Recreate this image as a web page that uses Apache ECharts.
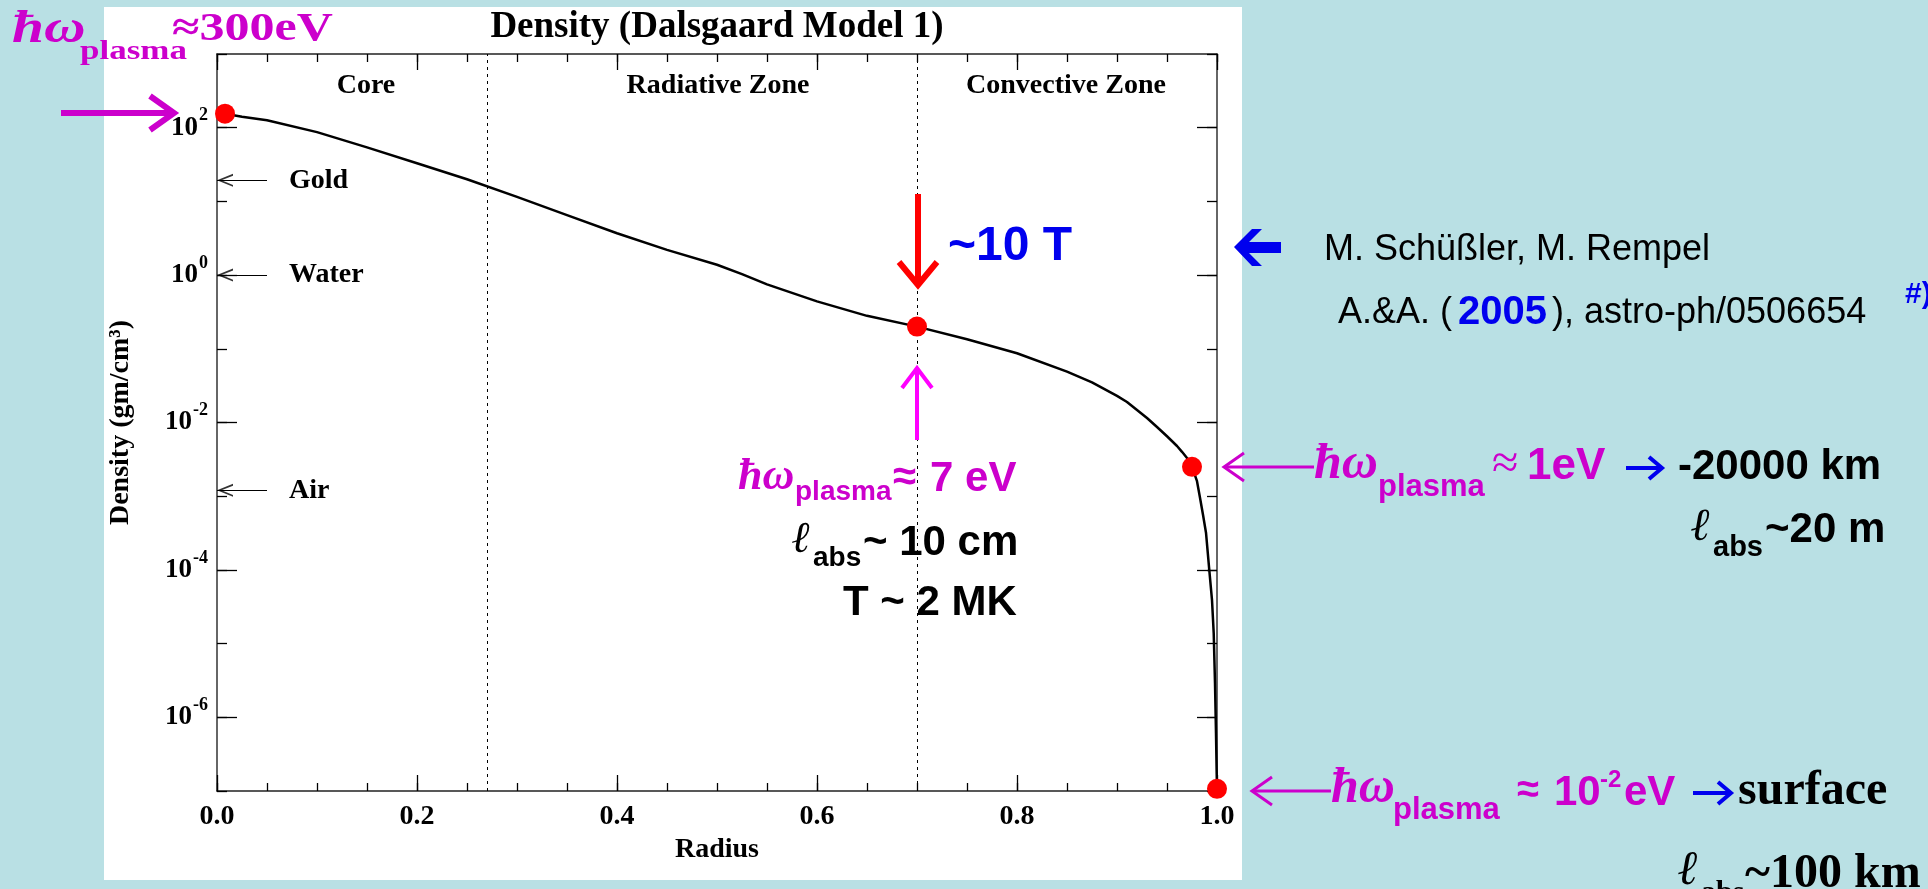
<!DOCTYPE html>
<html lang="en">
<head>
<meta charset="UTF-8">
<title>Density (Dalsgaard Model 1)</title>
<script src="https://cdn.jsdelivr.net/npm/echarts@6/dist/echarts.min.js"></script>
<style>
  html, body { margin: 0; padding: 0; background: #b9e0e4; }
  #main { width: 1928px; height: 889px; }
</style>
</head>
<body>
<div id="main"></div>
<script>
// solar density profile (radius in R_sun, density in g/cm^3)
var radius = [0.008, 0.025, 0.05, 0.1, 0.15, 0.2, 0.25, 0.3, 0.35, 0.4, 0.45, 0.5, 0.525, 0.55, 0.6, 0.65, 0.7,
  0.75, 0.8, 0.85, 0.875, 0.9, 0.91, 0.93, 0.94, 0.95, 0.96, 0.965, 0.97, 0.975, 0.98, 0.983, 0.986,
  0.989, 0.992, 0.995, 0.9967, 0.998, 0.999, 0.9997, 1.0];
var density = [155, 141, 126, 87, 54, 33, 20, 11.5, 6.5, 3.7, 2.2, 1.38, 1.03, 0.75, 0.44, 0.28, 0.20,
  0.135, 0.087, 0.049, 0.035, 0.023, 0.019, 0.0115, 0.0087, 0.0065, 0.0048, 0.004, 0.0033, 0.0025, 0.0016,
  0.00095, 0.00056, 0.00032, 0.00011, 0.000039, 0.000014, 0.0000029, 0.0000006, 0.00000017, 0.000000107];

// red dots
var dotRadius = [0.008, 0.7, 0.975, 1.0];
var dotDensity = [155, 0.2, 0.0025, 0.000000107];

// reference materials marked on the density axis
var refNames = ['Gold', 'Water', 'Air'];
var refDensity = [19.3, 1.0, 0.0012];

// zone boundaries (dotted lines)
var zoneEdges = [0.27, 0.7];

// decades that carry a label
var yLabelExp = [-6, -4, -2, 0, 2];

var SERIF = "'Liberation Serif', 'Times New Roman', 'DejaVu Serif', serif";
var SANS = "'Liberation Sans', Arial, 'DejaVu Sans', sans-serif";
var MAG = '#cc00cc';
var BLUE = '#0000ee';

function lg(v) { return Math.log10(v); }

var curve = radius.map(function (r, i) { return [r, lg(density[i])]; });
var dots = dotRadius.map(function (r, i) { return [r, lg(dotDensity[i])]; });
var refHeads = refDensity.map(function (d) { return [0, lg(d)]; });

// open "<" arrow head, tip on the left
var chevron = 'path://M10,0 L0,5 L10,10 L10,8.6 L2.8,5 L10,1.4 Z';

function xAxis(pos, interval, tickLen, labels) {
  return {
    type: 'value', position: pos, min: 0, max: 1, interval: interval,
    splitLine: { show: false },
    axisLine: { show: tickLen > 10, onZero: false, lineStyle: { color: '#222', width: 1.5 } },
    axisTick: { show: true, inside: true, length: tickLen, lineStyle: { color: '#000', width: 1.3 } },
    axisLabel: {
      show: labels, margin: 12, color: '#000',
      fontFamily: SERIF, fontWeight: 'bold', fontSize: 28,
      formatter: function (v) { return v.toFixed(1); }
    }
  };
}

function yAxis(pos, tickLen, custom, labels) {
  var ax = {
    type: 'value', position: pos, min: -7, max: 3, interval: 1,
    splitLine: { show: false },
    axisLine: { show: !custom, onZero: false, lineStyle: { color: '#333', width: 1.5 } },
    axisTick: { show: true, inside: true, length: tickLen, lineStyle: { color: '#000', width: 1.3 } },
    axisLabel: { show: false }
  };
  if (custom) ax.axisTick.customValues = yLabelExp;
  if (labels) {
    ax.axisLabel = {
      show: true, customValues: yLabelExp, margin: 9,
      formatter: function (v) { return '{b|10}{s|' + v + '}'; },
      rich: {
        b: { fontFamily: SERIF, fontWeight: 'bold', fontSize: 27, color: '#000' },
        s: { fontFamily: SERIF, fontWeight: 'bold', fontSize: 18, color: '#000', padding: [0, 0, 24, 1] }
      }
    };
  }
  return ax;
}

function text(x, y, str, font, color, align, sx) {
  return {
    type: 'text', x: x, y: y, z: 100, scaleX: sx || 1,
    style: { text: str, font: font, fill: color || '#000', align: align || 'left', verticalAlign: 'middle' }
  };
}

// shaft plus open head, head at (x2, y2)
function arrow(x1, y1, x2, y2, color, w, len, half) {
  var d = Math.sqrt((x2 - x1) * (x2 - x1) + (y2 - y1) * (y2 - y1));
  var ux = (x2 - x1) / d, uy = (y2 - y1) / d;
  var bx = x2 - ux * len, by = y2 - uy * len;
  return [
    { type: 'line', z: 100, shape: { x1: x1, y1: y1, x2: x2 - ux * w * 0.6, y2: y2 - uy * w * 0.6 },
      style: { stroke: color, lineWidth: w } },
    { type: 'polyline', z: 100,
      shape: { points: [[bx - uy * half, by + ux * half], [x2, y2], [bx + uy * half, by - ux * half]] },
      style: { stroke: color, lineWidth: w, fill: null, lineJoin: 'miter' } }
  ];
}

var els = [
  { type: 'rect', z: -10, shape: { x: 104, y: 7, width: 1138, height: 873 }, style: { fill: '#fff' } },

  text(12, 30, 'ħω', 'italic bold 46px ' + SERIF, MAG, 'left', 1.25),
  text(80, 52, 'plasma', 'bold 28px ' + SERIF, MAG, 'left', 1.25),
  text(172, 30, '≈300eV', 'bold 40px ' + SERIF, MAG, 'left', 1.25),

  text(366, 86, 'Core', 'bold 28px ' + SERIF, '#000', 'center'),
  text(718, 86, 'Radiative Zone', 'bold 28px ' + SERIF, '#000', 'center'),
  text(1066, 86, 'Convective Zone', 'bold 28px ' + SERIF, '#000', 'center'),

  text(948, 247, '~10 T', 'bold 48px ' + SANS, BLUE),
  text(738, 478, 'ħω', 'italic bold 44px ' + SERIF, MAG),
  text(795, 492, 'plasma', 'bold 28px ' + SANS, MAG),
  text(893, 478, '≈', 'bold 42px ' + SANS, MAG),
  text(930, 479, '7 eV', 'bold 42px ' + SANS, MAG),
  text(792, 541, 'ℓ', 'italic bold 44px ' + SERIF, '#000'),
  text(813, 558, 'abs', 'bold 28px ' + SANS, '#000'),
  text(863, 543, '~ 10 cm', 'bold 42px ' + SANS, '#000'),
  text(843, 603, 'T ~ 2 MK', 'bold 42px ' + SANS, '#000'),

  { type: 'polygon', z: 100, style: { fill: BLUE },
    shape: { points: [[1234, 247], [1252, 229], [1262, 229], [1249, 242], [1281, 242], [1281, 253],
      [1249, 253], [1262, 266], [1252, 266]] } },
  text(1324, 250, 'M. Schüßler, M. Rempel', '36px ' + SANS, '#000'),
  text(1338, 313, 'A.&A. (', '36px ' + SANS, '#000'),
  text(1458, 313, '2005', 'bold 40px ' + SANS, BLUE),
  text(1552, 313, '), astro-ph/0506654', '36px ' + SANS, '#000'),
  text(1905, 295, '#)', 'bold 30px ' + SANS, BLUE),

  text(1314, 465, 'ħω', 'italic bold 50px ' + SERIF, MAG),
  text(1378, 487, 'plasma', 'bold 31px ' + SANS, MAG),
  text(1492, 465, '≈', '48px ' + SERIF, MAG),
  text(1527, 467, '1eV', 'bold 44px ' + SANS, MAG),
  text(1678, 467, '-20000 km', 'bold 42px ' + SANS, '#000'),
  text(1691, 528, 'ℓ', 'italic bold 46px ' + SERIF, '#000'),
  text(1713, 548, 'abs', 'bold 29px ' + SANS, '#000'),
  text(1765, 530, '~20 m', 'bold 42px ' + SANS, '#000'),

  text(1331, 789, 'ħω', 'italic bold 50px ' + SERIF, MAG),
  text(1393, 810, 'plasma', 'bold 31px ' + SANS, MAG),
  text(1517, 791, '≈', 'bold 40px ' + SANS, MAG),
  text(1554, 793, '10', 'bold 42px ' + SANS, MAG),
  text(1600, 780, '-2', 'bold 24px ' + SANS, MAG),
  text(1624, 793, 'eV', 'bold 42px ' + SANS, MAG),
  text(1738, 792, 'surface', 'bold 48px ' + SERIF, '#000'),
  text(1678, 872, 'ℓ', 'italic bold 48px ' + SERIF, '#000'),
  text(1701, 893, 'abs', 'bold 30px ' + SERIF, '#000'),
  text(1745, 875, '~100 km', 'bold 48px ' + SERIF, '#000')
];
els = els.concat(
  arrow(61, 113, 174, 113, MAG, 6, 24, 17),
  arrow(918, 194, 918, 285, '#ff0000', 6, 23, 19),
  arrow(917, 440, 917, 368, '#ff00ff', 4, 20, 15),
  arrow(1314, 467, 1224, 467, MAG, 3, 20, 14),
  arrow(1331, 791, 1252, 791, MAG, 3, 20, 14),
  arrow(1626, 468, 1662, 468, BLUE, 4, 13, 11),
  arrow(1693, 793, 1731, 793, BLUE, 4, 13, 11)
);

var chart = echarts.init(document.getElementById('main'));

var option = {
  animation: false,
  backgroundColor: '#b9e0e4',
  title: {
    text: 'Density (Dalsgaard Model 1)',
    left: 717, top: 9, padding: 0, textAlign: 'center',
    textStyle: { fontFamily: SERIF, fontWeight: 'bold', fontSize: 37, color: '#000' }
  },
  grid: { left: 217, top: 54, width: 1000, height: 737 },
  xAxis: [
    Object.assign(xAxis('bottom', 0.2, 16, true), {
      name: 'Radius', nameLocation: 'middle', nameGap: 45,
      nameTextStyle: { fontFamily: SERIF, fontWeight: 'bold', fontSize: 28, color: '#000' }
    }),
    xAxis('bottom', 0.05, 8, false),
    xAxis('top', 0.2, 16, false),
    xAxis('top', 0.05, 8, false)
  ],
  yAxis: [
    Object.assign(yAxis('left', 10, false, true), {
      name: 'Density (gm/cm³)', nameLocation: 'middle', nameGap: 82, nameRotate: 90,
      nameTextStyle: { fontFamily: SERIF, fontWeight: 'bold', fontSize: 28, color: '#000' }
    }),
    yAxis('left', 20, true, false),
    yAxis('right', 10, false, false),
    yAxis('right', 20, true, false)
  ],
  graphic: { elements: els },
  series: [
    {
      name: 'Density',
      type: 'line',
      data: curve,
      showSymbol: false,
      symbol: 'none',
      smooth: false,
      clip: false,
      z: 3,
      lineStyle: { color: '#000', width: 2.5, join: 'round' },
      markLine: {
        silent: true,
        symbol: 'none',
        lineStyle: { color: '#000', width: 1.2, type: 'solid' },
        label: {
          show: true, position: 'end', distance: 22, formatter: '{b}', color: '#000',
          fontFamily: SERIF, fontWeight: 'bold', fontSize: 28
        },
        data: refNames.map(function (n, i) {
          return [{ name: n, coord: [0, lg(refDensity[i])] }, { coord: [0.05, lg(refDensity[i])] }];
        })
      }
    },
    {
      name: 'reference heads',
      type: 'scatter',
      data: refHeads,
      symbol: chevron,
      symbolSize: [16, 13],
      symbolOffset: [8, 0],
      clip: false,
      silent: true,
      z: 4,
      itemStyle: { color: '#000' }
    },
    {
      name: 'marks',
      type: 'scatter',
      data: dots,
      symbolSize: 20,
      clip: false,
      z: 5,
      itemStyle: { color: '#ff0000', opacity: 1 },
      markLine: {
        silent: true,
        symbol: 'none',
        lineStyle: { color: '#000', width: 1, type: [3, 4] },
        label: { show: false },
        data: zoneEdges.map(function (x) { return { xAxis: x }; })
      }
    }
  ]
};

chart.setOption(option);
</script>
</body>
</html>
